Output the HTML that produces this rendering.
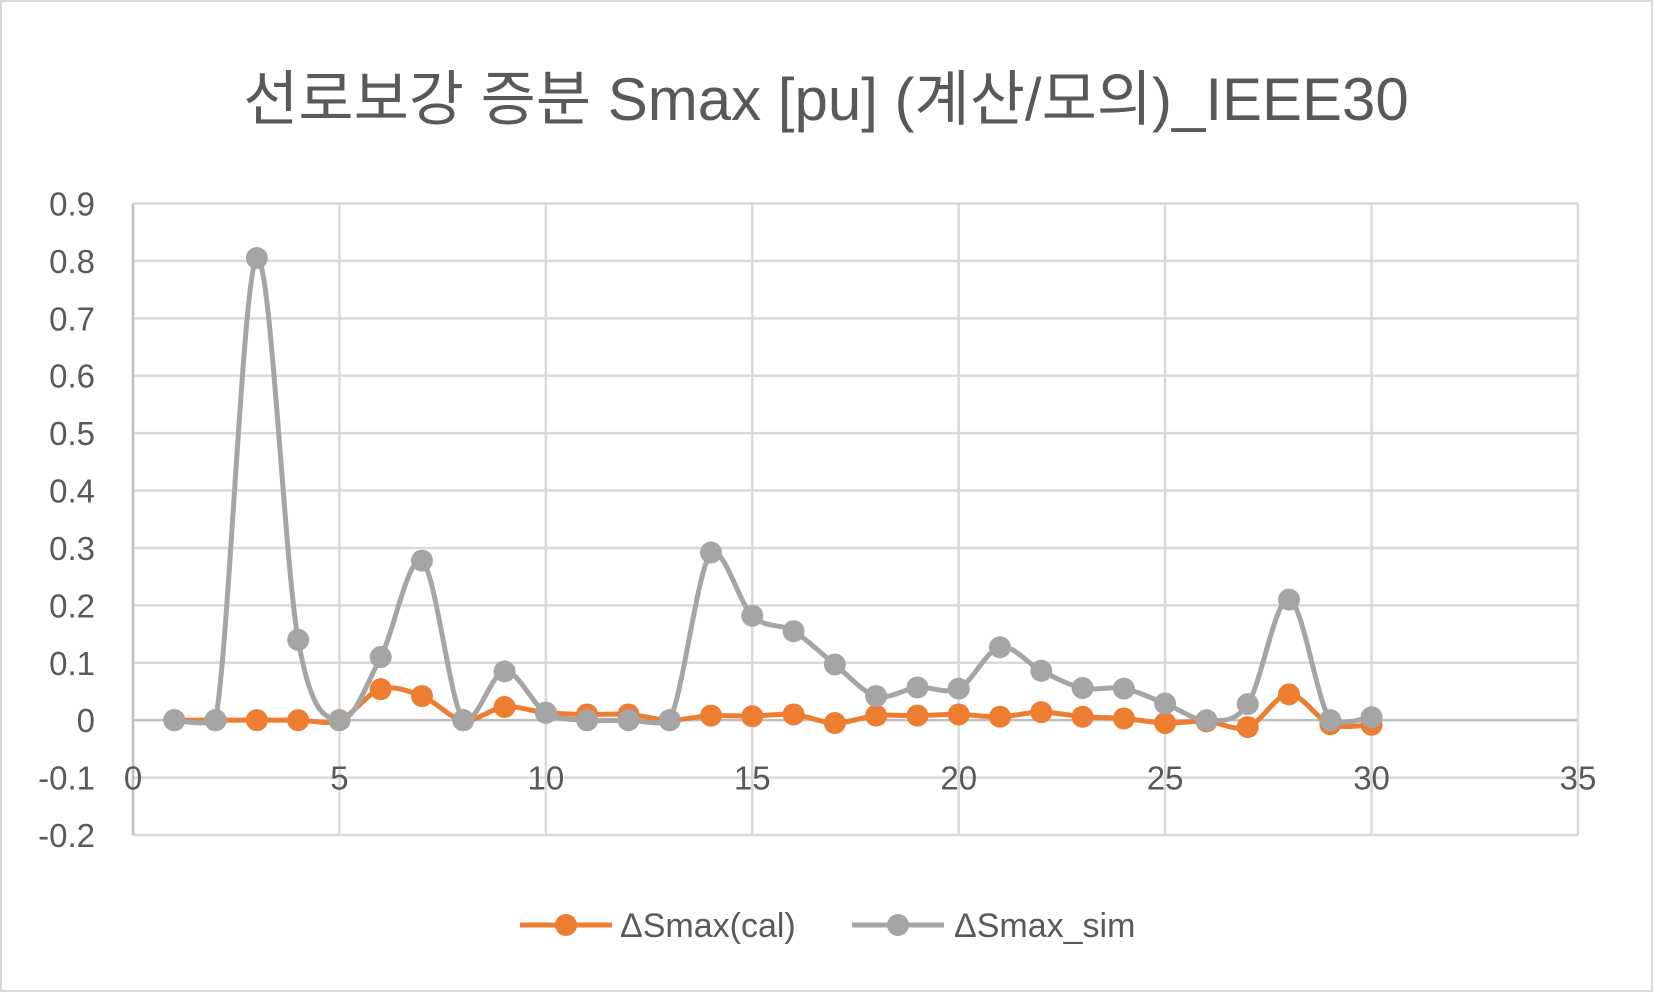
<!DOCTYPE html>
<html><head><meta charset="utf-8"><style>
html,body{margin:0;padding:0;background:#fff;}
svg{display:block;}
text{font-family:"Liberation Sans","Noto Sans CJK KR",sans-serif;fill:#595959;}
</style></head><body>
<svg id="chart" width="1653" height="992" viewBox="0 0 1653 992" xmlns="http://www.w3.org/2000/svg">
<rect x="1" y="1" width="1651" height="990" fill="#fff" stroke="#d9d9d9" stroke-width="2"/>
<text x="826" y="120" font-size="60" text-anchor="middle">선로보강 증분 Smax [pu] (계산/모의)_IEEE30</text>
<g id="grid"></g><g id="axes"></g><g id="series"></g>
<g>
<g>
<line x1="520" y1="925" x2="612" y2="925" stroke="#ed7d31" stroke-width="5"/>
<circle cx="566" cy="925" r="11" fill="#ed7d31"/>
<text x="620" y="937" font-size="34">ΔSmax(cal)</text></g>
<g>
<line x1="852" y1="925" x2="944" y2="925" stroke="#a5a5a5" stroke-width="5"/>
<circle cx="898" cy="925" r="11" fill="#a5a5a5"/>
<text x="954" y="937" font-size="34">ΔSmax_sim</text></g>
</g>
</svg>
<script>
const xValues=[1,2,3,4,5,6,7,8,9,10,11,12,13,14,15,16,17,18,19,20,21,22,23,24,25,26,27,28,29,30];
const calValues=[0,0,0,0,0,0.054,0.042,0,0.023,0.013,0.01,0.01,0,0.008,0.007,0.01,-0.005,0.008,0.008,0.01,0.006,0.014,0.006,0.003,-0.005,-0.002,-0.012,0.045,-0.007,-0.008];
const simValues=[0,0,0.805,0.14,0,0.11,0.278,0,0.085,0.013,0,0,0,0.292,0.182,0.155,0.097,0.042,0.057,0.055,0.127,0.086,0.056,0.055,0.029,0,0.028,0.21,0,0.005];
const yTicks=[0.9,0.8,0.7,0.6,0.5,0.4,0.3,0.2,0.1,0,-0.1,-0.2];
const xTicks=[0,5,10,15,20,25,30,35];
const NS='http://www.w3.org/2000/svg';
const L=133,R=1578,T=203.5,B=835,xMin=0,xMax=35,yMin=-0.2,yMax=0.9;
function sx(v){return L+(v-xMin)/(xMax-xMin)*(R-L);}
function sy(v){return B-(v-yMin)/(yMax-yMin)*(B-T);}
function mk(tag,attrs,parent){const e=document.createElementNS(NS,tag);for(const k in attrs)e.setAttribute(k,attrs[k]);parent.appendChild(e);return e;}
const grid=document.getElementById('grid'),axes=document.getElementById('axes'),series=document.getElementById('series');
yTicks.forEach(t=>{
  const ln=mk('line',{x1:L,x2:R,y1:sy(t),y2:sy(t),stroke:t===0?'#bfbfbf':'#d9d9d9','stroke-width':2.5},grid);
  
  
  const tx=mk('text',{x:L-38,y:sy(t)+12,'font-size':33,'text-anchor':'end'},axes);
  tx.textContent=String(t);
  
  
});
xTicks.forEach(t=>{
  const ln=mk('line',{x1:sx(t),x2:sx(t),y1:T,y2:B,stroke:t===0?'#bfbfbf':'#d9d9d9','stroke-width':2.5},grid);
  
  
  const tx=mk('text',{x:sx(t),y:sy(-0.1)+12,'font-size':33,'text-anchor':'middle'},axes);
  tx.textContent=String(t);
  
  
});
function clampY(y,a,b){const lo=Math.min(a,b)-6,hi=Math.max(a,b)+6;return Math.max(lo,Math.min(hi,y));}
function smooth(pts){
  let d='M'+pts[0][0]+','+pts[0][1];
  for(let i=0;i<pts.length-1;i++){
    const p0=pts[i-1]||pts[i],p1=pts[i],p2=pts[i+1],p3=pts[i+2]||pts[i+1];
    const c1=[p1[0]+(p2[0]-p0[0])/6,clampY(p1[1]+(p2[1]-p0[1])/6,p1[1],p2[1])];
    const c2=[p2[0]-(p3[0]-p1[0])/6,clampY(p2[1]-(p3[1]-p1[1])/6,p1[1],p2[1])];
    d+=' C'+c1[0]+','+c1[1]+' '+c2[0]+','+c2[1]+' '+p2[0]+','+p2[1];
  }
  return d;
}
function drawSeries(vals,color,name){
  const g=mk('g',{},series);
  
  
  const pts=xValues.map((x,i)=>[sx(x),sy(vals[i])]);
  const p=mk('path',{d:smooth(pts),fill:'none',stroke:color,'stroke-width':5,'stroke-linejoin':'round'},g);
  
  
  pts.forEach(pt=>{
    const c=mk('circle',{cx:pt[0],cy:pt[1],r:11,fill:color},g);
    
    
  });
}
drawSeries(calValues,'#ed7d31','series-cal');
drawSeries(simValues,'#a5a5a5','series-sim');
</script>
</body></html>
